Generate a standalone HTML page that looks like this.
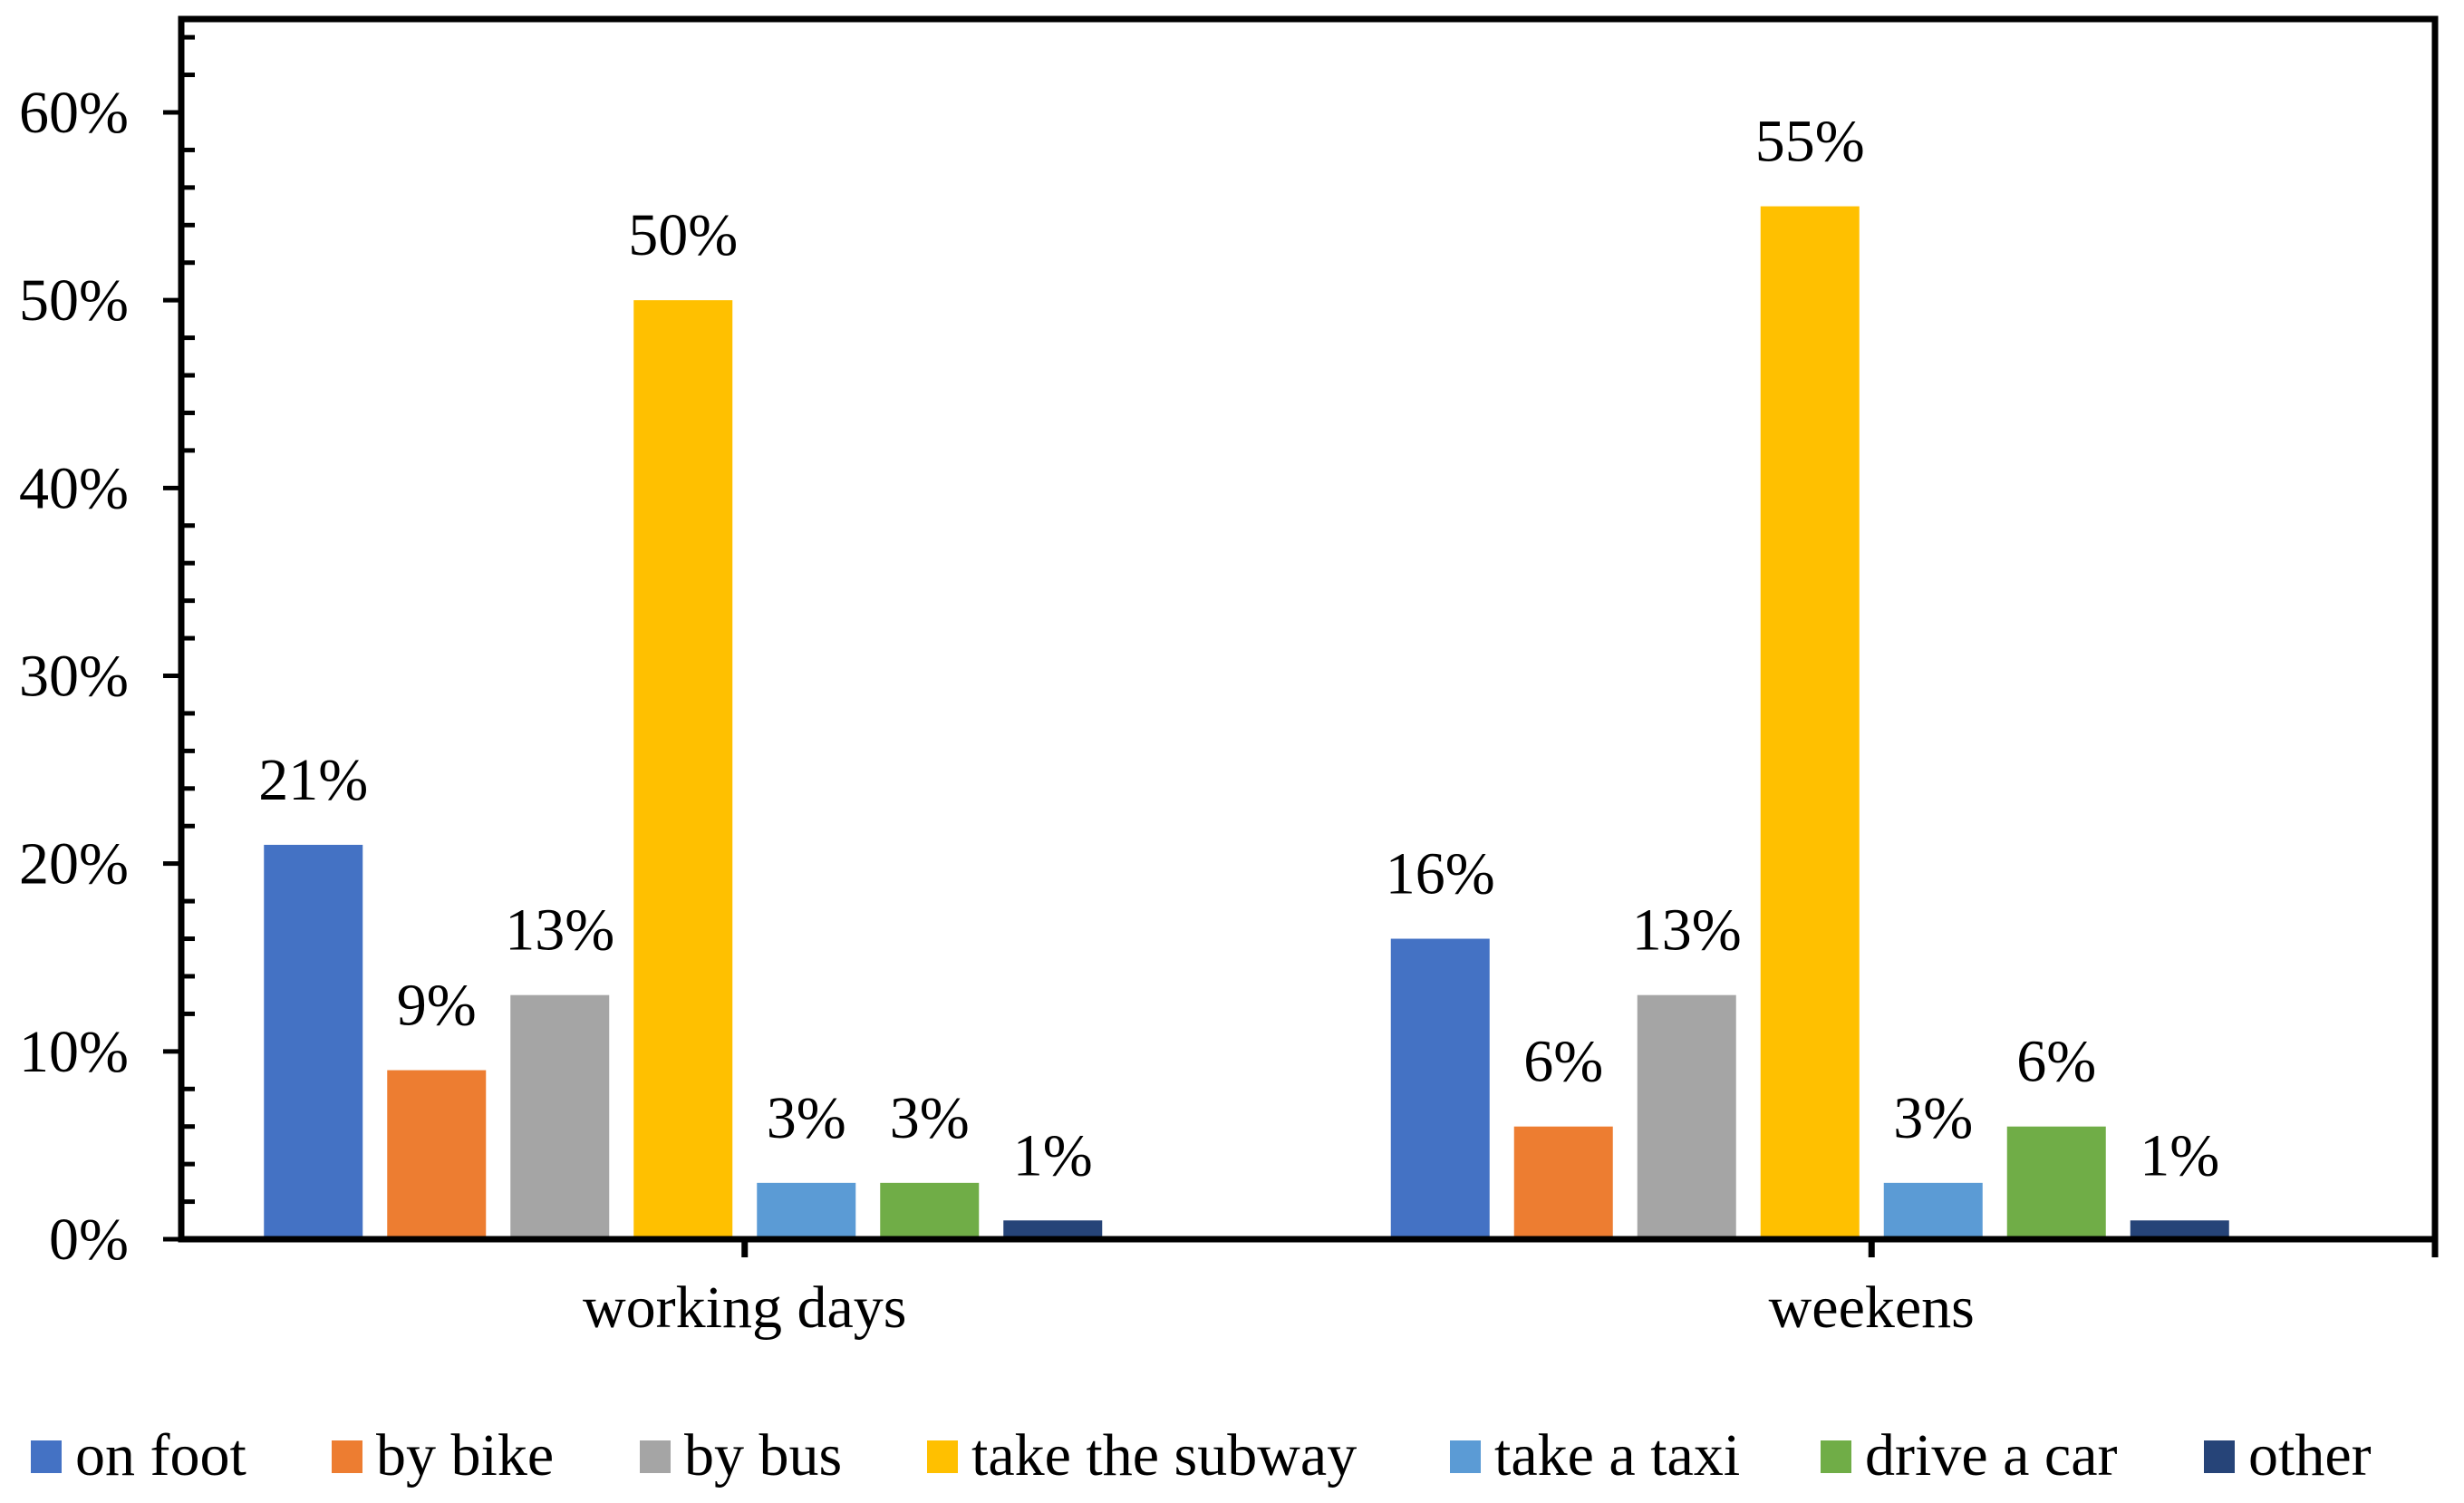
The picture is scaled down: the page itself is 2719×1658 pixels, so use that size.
<!DOCTYPE html>
<html><head><meta charset="utf-8"><style>
html,body{margin:0;padding:0;background:#fff;}
svg{display:block;font-family:"Liberation Serif",serif;}
</style></head><body>
<svg id="chart" width="2719" height="1658" viewBox="0 0 2719 1658" xmlns="http://www.w3.org/2000/svg"></svg>
<script>
const categories = ["working days", "weekens"];
const seriesNames = ["on foot", "by bike", "by bus", "take the subway", "take a taxi", "drive a car", "other"];
const workingDays = [21, 9, 13, 50, 3, 3, 1];
const weekends = [16, 6, 13, 55, 3, 6, 1];
const yTicks = [0, 10, 20, 30, 40, 50, 60];
const colors = ["#4472C4", "#ED7D31", "#A5A5A5", "#FFC000", "#5B9BD5", "#70AD47", "#264478"];
const seriesValues = [workingDays, weekends];

const NS = "http://www.w3.org/2000/svg";
const svg = document.getElementById("chart");
const X0 = 200, X1 = 2687, Y0 = 1367, YTOP = 21;
const perTen = (1367 - 124) / 6;
function y(v) { return Y0 - v / 10 * perTen; }
const catW = (X1 - X0) / categories.length;
function catCenter(i) { return X0 + catW * (i + 0.5); }
const barW = 109, step = 136, slots = 8;
function barX(ci, si) { return catCenter(ci) - (step * (slots - 1) + barW) / 2 + si * step; }
function mk(tag, attrs, parent) {
  const e = document.createElementNS(NS, tag);
  for (const k in attrs) e.setAttribute(k, attrs[k]);
  (parent || svg).appendChild(e);
  return e;
}

seriesValues.forEach((vals, ci) => {
  vals.forEach((v, si) => {
    const bx = barX(ci, si);
    const r = mk("rect", {x: bx, y: y(v), width: barW, height: Y0 - y(v), fill: colors[si]});
    
    
    const t = mk("text", {x: bx + barW / 2, y: y(v) - 50, "font-size": 66, "text-anchor": "middle", fill: "#000"});
    t.textContent = v + "%";
    
    
  });
});

for (let v = 0; v <= 64; v += 2) {
  if (v % 10 === 0) continue;
  const l = mk("line", {x1: X0, x2: 215, y1: y(v), y2: y(v), stroke: "#000", "stroke-width": 5});
  
  
}
yTicks.forEach(v => {
  const l = mk("line", {x1: 180, x2: X0, y1: y(v), y2: y(v), stroke: "#000", "stroke-width": 5});
  
  
  const t = mk("text", {x: 142, y: y(v) + 22, "font-size": 66, "text-anchor": "end", fill: "#000"});
  t.textContent = v + "%";
  
  
});

const frame = mk("rect", {x: X0, y: YTOP, width: X1 - X0, height: Y0 - YTOP, fill: "none", stroke: "#000", "stroke-width": 7});



// category ticks at centers, plus right edge extension
categories.forEach((c, i) => {
  const cx = catCenter(i);
  const l = mk("line", {x1: cx, x2: cx, y1: Y0, y2: Y0 + 20, stroke: "#000", "stroke-width": 7});
  
  
});
const re = mk("line", {x1: X1, x2: X1, y1: Y0, y2: Y0 + 20, stroke: "#000", "stroke-width": 7});



categories.forEach((c, i) => {
  const t = mk("text", {x: catCenter(i), y: 1464, "font-size": 66, "text-anchor": "middle", fill: "#000"});
  t.textContent = c;
  
  
});

const legX = [34, 366, 706, 1023, 1600, 2009, 2432];
seriesNames.forEach((n, i) => {
  const g = mk("g", {});
  
  
  const r = mk("rect", {x: legX[i], y: 1589, width: 34, height: 36, fill: colors[i]}, g);
  
  
  const t = mk("text", {x: legX[i] + 49, y: 1627, "font-size": 66, fill: "#000"}, g);
  t.textContent = n;
  
  
});
</script>
</body></html>
